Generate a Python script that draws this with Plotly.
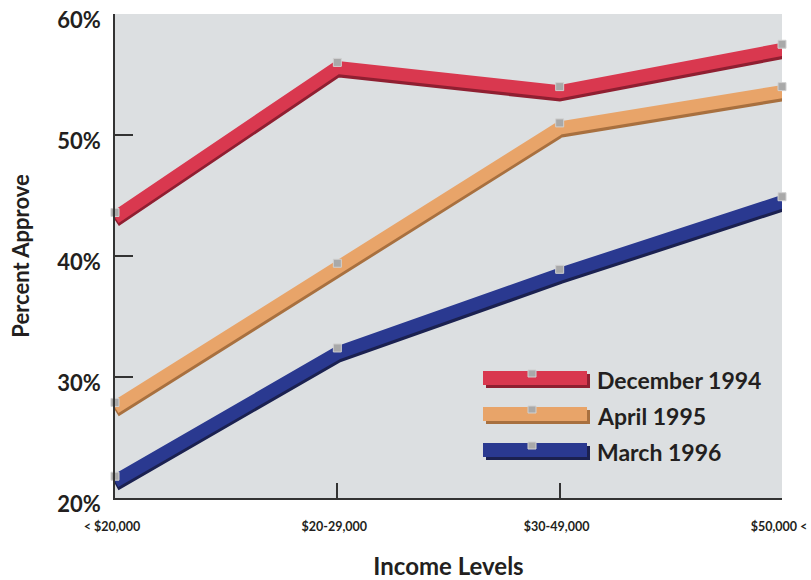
import plotly.graph_objects as go

categories = ["< $20,000", "$20-29,000", "$30-49,000", "$50,000 <"]
series_names = ["December 1994", "April 1995", "March 1996"]
dec_1994 = [43.6, 56.0, 54.0, 57.5]
apr_1995 = [27.9, 39.4, 51.0, 54.0]
mar_1996 = [21.8, 32.4, 38.9, 44.9]
y_ticks = [20, 30, 40, 50, 60]
y_tick_labels = ["20%", "30%", "40%", "50%", "60%"]

series_values = [dec_1994, apr_1995, mar_1996]
main_colors = ["#d9384f", "#e8a469", "#2a3990"]
shade_colors = ["#8f1f31", "#a8703f", "#1b2150"]

FONT = "Lato"
TEXT = "#231f20"

xs = list(range(len(categories)))
fig = go.Figure()

# tube shadow, tube body, then markers
for vals, main, shade in zip(series_values, main_colors, shade_colors):
    fig.add_trace(go.Scatter(x=xs, y=[v - 0.65 for v in vals], mode="lines",
                             line=dict(color=shade, width=14), hoverinfo="skip",
                             showlegend=False, cliponaxis=False))
    fig.add_trace(go.Scatter(x=xs, y=[v - 0.42 for v in vals], mode="lines",
                             line=dict(color=main, width=13), hoverinfo="skip",
                             showlegend=False, cliponaxis=False))
for vals, name in zip(series_values, series_names):
    fig.add_trace(go.Scatter(x=xs, y=vals, mode="markers", name=name,
                             marker=dict(symbol="square", size=8, color="#a9a9a9",
                                         line=dict(color="#d0d0d0", width=1)),
                             showlegend=False, cliponaxis=False))

# custom legend
L, R, T, B = 115, 782, 14, 498
def px(x):
    return (x - L) / (R - L)
def py(y):
    return (B - y) / (B - T)

legend_centers = [379, 415, 451]
shapes = []
annotations = []
for cy, name, main, shade in zip(legend_centers, series_names, main_colors, shade_colors):
    shapes.append(dict(type="rect", xref="paper", yref="paper",
                       x0=px(486), x1=px(590), y0=py(cy + 9), y1=py(cy - 5),
                       fillcolor=shade, line=dict(width=0), layer="above"))
    shapes.append(dict(type="rect", xref="paper", yref="paper",
                       x0=px(483), x1=px(587), y0=py(cy + 6), y1=py(cy - 8),
                       fillcolor=main, line=dict(width=0), layer="above"))
    shapes.append(dict(type="rect", xref="paper", yref="paper",
                       x0=px(528), x1=px(536), y0=py(cy - 2), y1=py(cy - 9),
                       fillcolor="#a9a9a9", line=dict(color="#d0d0d0", width=1), layer="above"))
    annotations.append(dict(x=px(595), y=py(cy + 1), xref="paper", yref="paper",
                            text=name, showarrow=False, xanchor="left", yanchor="middle",
                            font=dict(family=FONT, size=23, color=TEXT, weight="bold")))

fig.update_layout(
    width=811, height=580,
    margin=dict(l=L, r=811 - R, t=T, b=580 - B),
    paper_bgcolor="white", plot_bgcolor="#dcdfe1",
    shapes=shapes, annotations=annotations,
    showlegend=False,
    xaxis=dict(range=[0, 3], tickvals=xs, ticktext=categories, automargin=False,
               ticks="inside", ticklen=15, tickwidth=1.5, tickcolor="#333",
               showline=True, linecolor="#333", linewidth=1.5,
               showgrid=False, zeroline=False, ticklabelstandoff=16,
               ticklabelshift=-3, ticklabeloverflow="allow",
               tickfont=dict(family=FONT, size=12.5, color=TEXT, weight="bold"),
               title=dict(text="Income Levels", standoff=28,
                          font=dict(family=FONT, size=24, color=TEXT, weight="bold"))),
    yaxis=dict(range=[20, 60], tickvals=y_ticks, ticktext=y_tick_labels, automargin=False,
               ticks="inside", ticklen=18, tickwidth=1.5, tickcolor="#333",
               showline=True, linecolor="#333", linewidth=1.5,
               showgrid=False, zeroline=False, ticklabelstandoff=8,
               ticklabelshift=6, ticklabeloverflow="allow",
               tickfont=dict(family=FONT, size=22, color=TEXT, weight="bold"),
               title=dict(text="Percent Approve", standoff=22,
                          font=dict(family=FONT, size=22, color=TEXT, weight="bold"))),
)

fig.write_html("out.html")
